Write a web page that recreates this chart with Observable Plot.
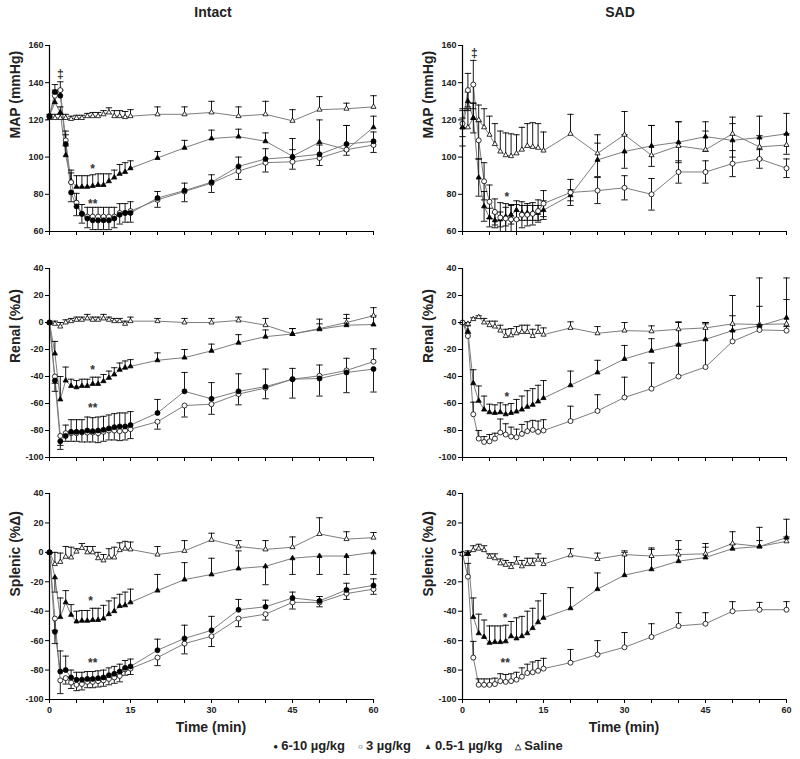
<!DOCTYPE html>
<html><head><meta charset="utf-8">
<script src="https://cdn.jsdelivr.net/npm/d3@7"></script>
<script src="https://cdn.jsdelivr.net/npm/@observablehq/plot@0.6"></script>
<style>
body{margin:0;background:#fff;}
#root{position:relative;width:800px;height:759px;font-family:"Liberation Sans",Arial,sans-serif;color:#222;}
.abs{position:absolute;white-space:nowrap;}
.title{font-weight:bold;font-size:14px;line-height:16px;transform:translateX(-50%);}
.xlab{font-weight:bold;font-size:14px;line-height:16px;transform:translateX(-50%);}
.legend{display:flex;gap:13px;transform:translateX(-50%);}
.leg{font-weight:bold;font-size:13px;line-height:16px;white-space:nowrap;}
.leg .sym{font-size:8px;vertical-align:1px;margin-right:3px;}
</style></head>
<body><div id="root"></div>
<script>
// ---------- data ----------
const times = [0,1,2,3,4,5,6,7,8,9,10,11,12,13,14,15,20,25,30,35,40,45,50,55,60];
const xTicks = [0,5,10,15,20,25,30,35,40,45,50,55,60];
const mapTicks = [60,80,100,120,140,160];
const pctTicks = [-100,-80,-60,-40,-20,0,20,40];
const seriesNames = ["6-10 µg/kg","3 µg/kg","0.5-1 µg/kg","Saline"];

// Intact – MAP (mmHg)
const intactMapHigh = [122,135,133,107,81,73.5,69.5,67,66,66,66,66,67,69,70,70,78,82,86.5,95,99,100,101.5,107,108.5];
const intactMapHighErr = [0,4,3,5,-5,-5,-5,-5,-5,-5,-5,-5,-5,-5,-5,-5,-5,-6,-5.5,5,5.5,4,5,10,5];
const intactMapMid = [122,133,136,109,86.5,75.5,69.5,68,68,68,68,68,68,70,70,71,77,81.5,86,92.5,97,97.5,99.5,104,106.5];
const intactMapMidErr = [0,3,4.5,5,5,5,5,5,5,5,5,5,5,5,5,5,4.5,4.5,4.5,-4.5,-5,-4,-4,-3,-4];
const intactMapLow = [122,129.5,124,101,87,84,84,84,84.5,85,85,87,89,91,92,94,99.5,105,110,111,108.5,100.5,108,104,116];
const intactMapLowErr = [0,5,3,5,6,6,6,6,6,6,6,4,4,5,5,4,3.5,4,4.5,4,4.5,9.5,12,13,6];
const intactMapSal = [121,121,121,121,120.5,121,121,122,122,122,123,124,122,122,121.5,122,123,123,124,122,123,119.5,125.5,126,127];
const intactMapSalErr = [2,2,2,2,1.5,1.5,1.5,1.5,2,2,2,2.5,3,3,3,3.5,4,4,6,5,7,6,7,3,6];

// SAD – MAP (mmHg)
const sadMapMid = [118,136,139,109,87,76,70.5,67.5,67,66.5,66.5,69,69,69.5,71,75,81,82,83.5,80,92,92,96.5,99,94];
const sadMapMidErr = [7,9,13,10,10,9,7,8,8,8,8,7,6,6,6,7,7,7,6.5,8.5,6,6,7,5,5];
const sadMapLow = [116,130,121,89,73.5,67.5,66,66.5,68,69,71.5,70,70,70,70,71.5,79.5,98.5,103,106,108,111,109,110.5,112.5];
const sadMapLowErr = [10,5,8,10,8,5,4,4,5,5,5,4,4,4,4,5,3,9,9,11,11,8,9,11.5,11];
const sadMapSal = [116,116,121,120,116,112,107,103,101,100.5,102,104,106,105.5,105,103.5,112.5,102,112,101,106,104,112.5,105.5,106.5];
const sadMapSalErr = [5,10,8,8,10,10,11,11,12,12,10,12,12,13,13,10,10.5,10,12.5,16,13,10,9,6,6];

// Intact – Renal (%Δ)
const intactRenHigh = [0,-43,-88,-84,-81,-81,-81,-80,-80.5,-80,-79.5,-78.5,-77.5,-77,-77,-76,-67,-51,-56.5,-51,-47.5,-42,-41.5,-37,-34.5];
const intactRenHighErr = [0,-8,-6,8,9,9,9,10,10,10,10,10,10,10,10,10,10,14,12,13,13,-14,-13,-15,-17];
const intactRenMid = [0,-40,-84,-82,-82,-82,-81.5,-81.5,-81.5,-82,-81,-80,-80,-80.5,-80,-79,-73.5,-61.5,-60.5,-53,-48.5,-42,-39.5,-35.5,-29];
const intactRenMidErr = [0,-5,-7,-6,-6,-6,-7,-7,-7,-7,-7,-7,-7,-7,-7,-7,-5.5,-8.5,-7.5,-8,-8,8,8,9,9.5];
const intactRenLow = [0,-23,-57,-43,-47,-48,-47,-47,-45.5,-45.5,-43.5,-41,-38.5,-35,-33.5,-32.5,-28,-26,-21,-15,-10.5,-8.5,-5,-2,-1.5];
const intactRenLowErr = [0,9,17,10,5,5,5,5,5,5,5,5,5,5,5,5,5.5,6,5,6,5,4,4,5,6.5];
const intactRenSal = [0,-1,-3,0,1,2,2,3,2,2,3,2,1,1,-1,1,1,0,0,1.5,-2,-8.5,-4.5,0,5];
const intactRenSalErr = [0,2,3,2,2,2,2,3,2,2,3,2,2,2,2,3,2,3,3,2.5,5,4,7,6,6];

// SAD – Renal (%Δ)
const sadRenMid = [0,-10,-68,-86,-88.5,-88,-86,-81.5,-83,-84.5,-85,-82.5,-80.5,-79.5,-81,-80,-73,-65.5,-55.5,-49,-40,-33,-14,-5.5,-6];
const sadRenMidErr = [0,2,9,6,4,5,4,10,8,7,6,7,7,7,8,8,11,12,15,19,24,32,8,4,3];
const sadRenLow = [0,-6.5,-45,-58,-64.5,-66.5,-67,-66.5,-68,-67,-66,-64.5,-62.5,-61,-58.5,-56,-46.5,-37,-27,-21,-16.5,-12.5,-6,-2.5,3.5];
const sadRenLowErr = [0,4,10,11,10,6,6,7,7,7,9,10,12,12,12,13,10.5,9,10,9,16.5,12.5,26,35.5,29.5];
const sadRenSal = [0,-1,2.5,4,0,-2,-3,-6,-10,-9.5,-8,-7,-7,-10,-7,-9,-4,-8,-6,-6.5,-5,-4,-1,-1.5,-1];
const sadRenSalErr = [0,1,1,1,3,3,4,4,5,5,5,5,5,5,5,5,4.5,5,6,4,5.5,4,6,13.5,18];

// Intact – Splenic (%Δ)
const intactSplHigh = [0,-54,-81,-80,-85,-86.5,-86.5,-86,-86,-85.5,-85,-83.5,-82.5,-81,-78.5,-77.5,-66.5,-58.5,-53,-39,-37,-31,-33,-25.5,-22.5];
const intactSplHighErr = [0,-8,14,9.5,5,5,5,5,5,5,5,5,5,5,5,5,7.5,9,9.5,7,4.5,4,3,4.5,4.5];
const intactSplMid = [0,-45,-87,-85.5,-88.5,-90,-89.5,-88,-88,-87.5,-87,-86,-85,-84,-79.5,-79,-71.5,-62,-57,-45,-42,-34,-34,-28,-25];
const intactSplMidErr = [0,-8,-9,-4,-4,-4,-4,-4,-4,-4,-4,-4,-4,-4,-4,-4,-5.5,-7,-7,-5.5,-4,-4.5,-3,-4,-3.5];
const intactSplLow = [0,-17,-44,-34,-42.5,-47,-46.5,-46.5,-46,-46,-45,-42,-40,-36.5,-36,-34,-26,-18.5,-15,-11,-9.5,-4,-2.5,-2.5,0];
const intactSplLowErr = [0,-10,13,8,7,7,7,7,8,8,9,9,9,8,9,9,11,11.5,11,12,-12.5,-11,-12.5,-12.5,-15];
const intactSplSal = [0,-8,-6.5,-3,-3.5,0.5,3,0,0,-4,-5.5,-3.5,-3.5,1.5,2.5,2,-1.5,1,8.5,4,2,3.5,12.5,9,10];
const intactSplSalErr = [0,8,6,7,7,2,3,4,4,4,4,6,7,5,5,5,5.5,7,4.5,4,6,7,11,5,3.5];

// SAD – Splenic (%Δ)
const sadSplMid = [-1,-16.5,-71.5,-90,-90,-90,-89.5,-87.5,-88,-87.5,-86.5,-84.5,-82,-81.5,-80.5,-79,-75,-69.5,-64.5,-57.5,-50,-48.5,-40,-39,-39];
const sadSplMidErr = [0,9,11,4,4,4,4,5,5,5,5,6,6,7,7,7,9,9.5,10,9,9,7.5,6.5,5,5.5];
const sadSplLow = [-1,-1,-44,-55,-57.5,-61.5,-61,-61,-60.5,-57,-58.5,-57,-55,-51.5,-47.5,-44.5,-38,-25,-15.5,-11.5,-6,-3.5,2.5,4,10];
const sadSplLowErr = [0,2,13,13,11.5,11.5,11,11,11,10,14,13.5,15,13.5,14.5,16.5,14,11,15.5,13.5,8,7,3,4,12.5];
const sadSplSal = [-1,-1,1.5,2.5,1.5,-3,-4,-7.5,-8.5,-10,-7,-9.5,-8,-8,-5,-8,-2,-4.5,-1.5,-2.5,-1.5,-1,6,4,7.5];
const sadSplSalErr = [0,1,3,3,3,2,3,3,3,3,4,4,4,4,4,4,4.5,4,2.5,5.5,9.5,7,8,13,3];

// significance marks
const intactMapNotes = [{t:2,v:144.5,s:"‡"},{t:8,v:93.5,s:"*"},{t:8,v:74.5,s:"**"}];
const sadMapNotes = [{t:2.2,v:156,s:"‡"},{t:8.2,v:78.5,s:"*"}];
const intactRenNotes = [{t:8,v:-35,s:"*"},{t:8,v:-63.5,s:"**"}];
const sadRenNotes = [{t:8.2,v:-55.5,s:"*"}];
const intactSplNotes = [{t:7.6,v:-33,s:"*"},{t:8,v:-75.5,s:"**"}];
const sadSplNotes = [{t:7.9,v:-44.5,s:"*"},{t:7.9,v:-75.5,s:"**"}];

// ---------- drawing ----------
const styleOf = {
  "6-10 µg/kg": {symbol:"circle", fill:"#000", r:2.5},
  "3 µg/kg": {symbol:"circle", fill:"#fff", r:2.5},
  "0.5-1 µg/kg": {symbol:"triangle", fill:"#000", r:1.9},
  "Saline": {symbol:"triangle", fill:"#fff", r:1.9}
};
const capSymbol = {draw(ctx, size) { const w = Math.sqrt(size / Math.PI); ctx.moveTo(-w, 0); ctx.lineTo(w, 0); }};

function makePanel(cfg) {
  const rows = [], errRows = [], capRows = [];
  for (const s of cfg.series) {
    times.forEach((t, i) => {
      const v = s.vals[i], e = s.errs[i];
      rows.push({name: s.name, t, v});
      if (!e) return;
      if (s.both) {
        const a = Math.abs(e);
        errRows.push({t, y1: v - a, y2: v + a});
        capRows.push({t, y: v - a}, {t, y: v + a});
      } else {
        errRows.push({t, y1: v, y2: v + e});
        capRows.push({t, y: v + e});
      }
    });
  }
  const order = ["Saline","0.5-1 µg/kg","3 µg/kg","6-10 µg/kg"];
  const dots = order.filter(n => cfg.series.some(s => s.name === n)).map(n => {
    const st = styleOf[n];
    return Plot.dot(rows.filter(d => d.name === n), {x: "t", y: "v", symbol: st.symbol, r: st.r, fill: st.fill, stroke: "#000", strokeWidth: 0.8});
  });
  const p = Plot.plot({
    width: 400, height: cfg.height,
    marginLeft: cfg.mLeft, marginRight: cfg.mRight, marginTop: cfg.mTop, marginBottom: cfg.mBottom,
    style: {fontFamily: '"Liberation Sans", Arial, sans-serif', fontSize: "9px", fontWeight: "bold", color: "#222", background: "transparent"},
    x: {domain: [0, 60]},
    y: {domain: cfg.domain, clamp: true},
    marks: [
      Plot.line(rows, {x: "t", y: "v", z: "name", stroke: "#7d7d7d", strokeWidth: 1}),
      Plot.ruleX(errRows, {x: "t", y1: "y1", y2: "y2", stroke: "#000", strokeWidth: 0.9}),
      Plot.dot(capRows, {x: "t", y: "y", symbol: capSymbol, r: 3.2, stroke: "#000", strokeWidth: 0.9}),
      ...dots,
      Plot.ruleX([0], {stroke: "#000", strokeWidth: 1.2}),
      Plot.ruleY([cfg.domain[0]], {stroke: "#000", strokeWidth: 1.2}),
      Plot.axisY({ticks: cfg.yTicks, tickSize: 4, tickPadding: 2, tickFormat: d => String(d), label: null, stroke: "#000"}),
      Plot.axisX({ticks: xTicks, tickSize: 4, tickPadding: 3, tickFormat: cfg.bottom ? (d => d % 15 === 0 ? String(d) : "") : (() => ""), label: null, stroke: "#000"}),
      Plot.text([cfg.ylabel], {text: d => d, frameAnchor: "left", rotate: -90, dx: -34, fontSize: 14, fontWeight: "bold", fill: "#222"}),
      Plot.text(cfg.notes, {x: "t", y: "v", text: "s", fontSize: 12, fill: "#333"})
    ]
  });
  p.style.position = "absolute";
  p.style.left = cfg.left + "px";
  p.style.top = cfg.top + "px";
  return p;
}

const root = document.getElementById("root");
const rowsCfg = [
  {key: "map", domain: [60,160], yTicks: mapTicks, ylabel: "MAP (mmHg)", top: 35, height: 206, mTop: 10, mBottom: 10, bottom: false},
  {key: "ren", domain: [-100,40], yTicks: pctTicks, ylabel: "Renal (%Δ)", top: 255, height: 212, mTop: 13, mBottom: 10, bottom: false},
  {key: "spl", domain: [-100,40], yTicks: pctTicks, ylabel: "Splenic (%Δ)", top: 480, height: 241, mTop: 13, mBottom: 22, bottom: true}
];
const intactSeries = {
  map: [[seriesNames[0], intactMapHigh, intactMapHighErr],[seriesNames[1], intactMapMid, intactMapMidErr],[seriesNames[2], intactMapLow, intactMapLowErr],[seriesNames[3], intactMapSal, intactMapSalErr]],
  ren: [[seriesNames[0], intactRenHigh, intactRenHighErr],[seriesNames[1], intactRenMid, intactRenMidErr],[seriesNames[2], intactRenLow, intactRenLowErr],[seriesNames[3], intactRenSal, intactRenSalErr]],
  spl: [[seriesNames[0], intactSplHigh, intactSplHighErr],[seriesNames[1], intactSplMid, intactSplMidErr],[seriesNames[2], intactSplLow, intactSplLowErr],[seriesNames[3], intactSplSal, intactSplSalErr]]
};
const sadSeries = {
  map: [[seriesNames[1], sadMapMid, sadMapMidErr, true],[seriesNames[2], sadMapLow, sadMapLowErr, true],[seriesNames[3], sadMapSal, sadMapSalErr]],
  ren: [[seriesNames[1], sadRenMid, sadRenMidErr],[seriesNames[2], sadRenLow, sadRenLowErr],[seriesNames[3], sadRenSal, sadRenSalErr]],
  spl: [[seriesNames[1], sadSplMid, sadSplMidErr],[seriesNames[2], sadSplLow, sadSplLowErr],[seriesNames[3], sadSplSal, sadSplSalErr]]
};
const intactNotes = {map: intactMapNotes, ren: intactRenNotes, spl: intactSplNotes};
const sadNotes = {map: sadMapNotes, ren: sadRenNotes, spl: sadSplNotes};
const toSeries = arr => arr.map(([name, vals, errs, both]) => ({name, vals, errs, both: !!both}));

for (const rc of rowsCfg) {
  root.appendChild(makePanel({...rc, series: toSeries(intactSeries[rc.key]), notes: intactNotes[rc.key], left: 0, mLeft: 49, mRight: 27}));
  root.appendChild(makePanel({...rc, series: toSeries(sadSeries[rc.key]), notes: sadNotes[rc.key], left: 400, mLeft: 62, mRight: 14}));
}

function addDiv(cls, text, x, y) {
  const d = document.createElement("div");
  d.className = "abs " + cls; d.textContent = text;
  d.style.left = x + "px"; d.style.top = y + "px";
  root.appendChild(d); return d;
}
addDiv("title", "Intact", 213, 4);
addDiv("title", "SAD", 620, 4);
addDiv("xlab", "Time (min)", 211, 719);
addDiv("xlab", "Time (min)", 624, 719);
const legSyms = ["●","○","▲","△"];
const legend = addDiv("legend", "", 418, 738);
seriesNames.forEach((n, i) => {
  const d = document.createElement("div"); d.className = "leg";
  const s = document.createElement("span"); s.className = "sym"; s.textContent = legSyms[i];
  d.appendChild(s); d.appendChild(document.createTextNode(n));
  legend.appendChild(d);
});
</script></body></html>
